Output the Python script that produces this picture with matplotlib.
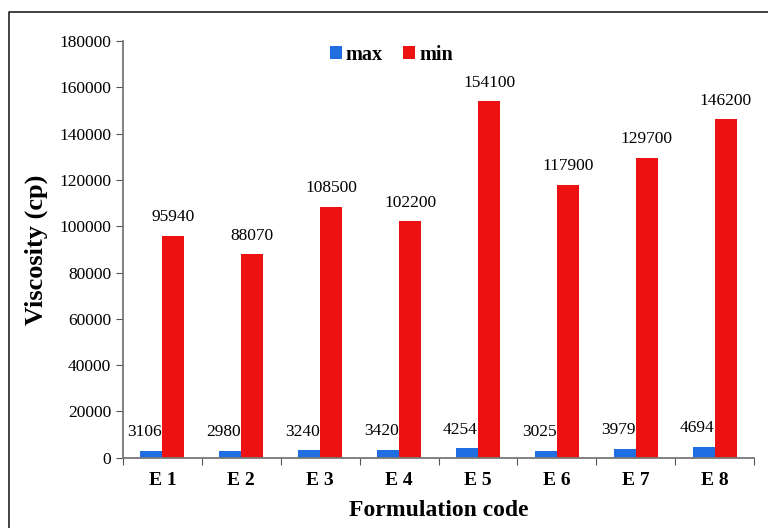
import matplotlib.pyplot as plt
from matplotlib.lines import Line2D
import numpy as np

# data
codes = ['E 1', 'E 2', 'E 3', 'E 4', 'E 5', 'E 6', 'E 7', 'E 8']
max_vals = [3106, 2980, 3240, 3420, 4254, 3025, 3979, 4694]
min_vals = [95940, 88070, 108500, 102200, 154100, 117900, 129700, 146200]

plt.rcParams['font.family'] = ['Liberation Serif', 'DejaVu Serif']

fig = plt.figure(figsize=(7.68, 5.28), dpi=100)
ax = fig.add_axes([0.160, 0.133, 0.822, 0.789])

# outer frame: only its top and left edges are inside the image
fx, fy = 9 / 768, 1 - 12 / 528
fig.add_artist(Line2D([fx, fx, 1.0], [0.0, fy, fy], transform=fig.transFigure,
                      color='#222222', linewidth=1.2))

x = np.arange(len(codes))
w = 0.28
blue = '#1f6fe3'
red = '#ee1111'
ax.bar(x - w / 2, max_vals, w, color=blue, label='max')
ax.bar(x + w / 2, min_vals, w, color=red, label='min')

for xi, v in zip(x, max_vals):
    ax.text(xi - w * 0.8, v + 4500, str(v), ha='center', va='bottom', fontsize=12.5)
for xi, v in zip(x, min_vals):
    ax.text(xi + w / 2, v + 4500, str(v), ha='center', va='bottom', fontsize=12.5)

ax.set_xlim(-0.5, len(codes) - 0.5)
ax.set_ylim(0, 180000)
ax.set_yticks(np.arange(0, 180001, 20000))
ax.set_xticks(np.arange(-0.5, len(codes), 1), minor=False)
ax.set_xticklabels([])
ax.set_xticks(x, minor=True)
ax.set_xticklabels(codes, minor=True, fontweight='bold', fontsize=14)
ax.tick_params(axis='x', which='minor', length=0, pad=10)
ax.tick_params(axis='x', which='major', length=5, color='#555555')
ax.tick_params(axis='y', length=5, color='#555555', labelsize=12.5)

for s in ['top', 'right']:
    ax.spines[s].set_visible(False)
for s in ['left', 'bottom']:
    ax.spines[s].set_color('#777777')
    ax.spines[s].set_linewidth(1.3)

ax.set_ylabel('Viscosity (cp)', fontsize=19, fontweight='bold', labelpad=8)
ax.set_xlabel('Formulation code', fontsize=17, fontweight='bold', labelpad=8)

ax.legend(loc='upper center', bbox_to_anchor=(0.425, 1.035), ncol=2, frameon=False,
          prop={'weight': 'bold', 'size': 14.5}, handlelength=0.6, handleheight=0.6,
          handletextpad=0.2, columnspacing=1.0)

fig.savefig('out.png', dpi=100)
